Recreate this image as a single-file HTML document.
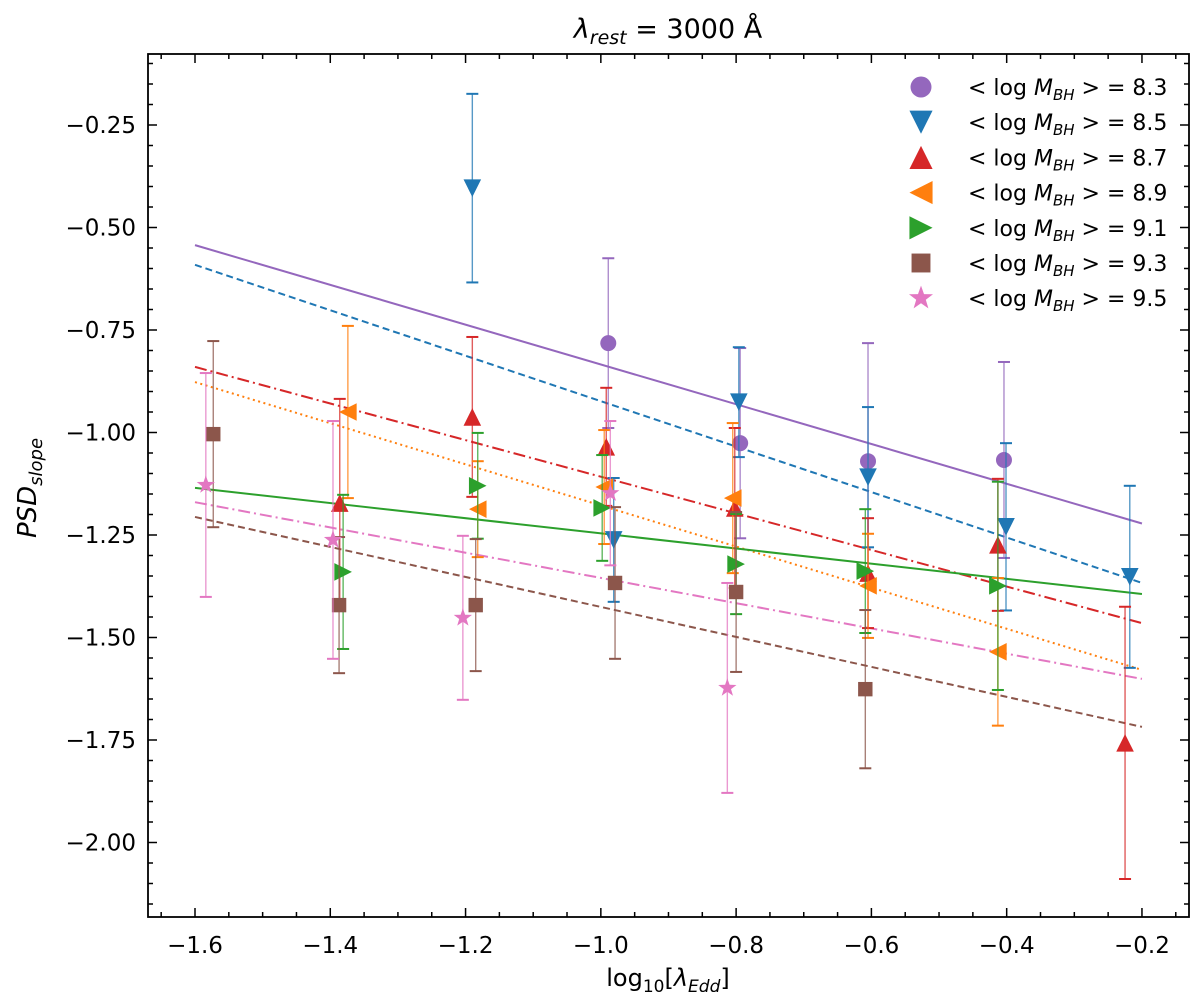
<!DOCTYPE html>
<html><head><meta charset="utf-8"><style>
body{margin:0;background:#fff;}
svg{display:block;font-family:"DejaVu Sans","Liberation Sans",sans-serif;}
</style></head><body>
<svg id="chart" width="1200" height="1000" viewBox="0 0 1200 1000" xmlns="http://www.w3.org/2000/svg">
<rect width="1200" height="1000" fill="#fff"/>
<g id="plot"></g>
<text x="668" y="38" text-anchor="middle" font-size="27"><tspan font-style="italic">λ</tspan><tspan font-style="italic" font-size="19" dy="6">rest</tspan><tspan dy="-6"> =  3000 Å</tspan></text>
<text x="668" y="986" text-anchor="middle" font-size="24">log<tspan font-size="17" dy="6">10</tspan><tspan dy="-6">[</tspan><tspan font-style="italic">λ</tspan><tspan font-style="italic" font-size="17" dy="6">Edd</tspan><tspan dy="-6">]</tspan></text>
<text transform="translate(36,488) rotate(-90)" text-anchor="middle" font-size="26" font-style="italic">PSD<tspan font-size="18" dy="6">slope</tspan></text>
</svg>
<script>
const seriesNames=["8.3","8.5","8.7","8.9","9.1","9.3","9.5"];
const seriesColors=["#9467bd","#1f77b4","#d62728","#ff7f0e","#2ca02c","#8c564b","#e377c2"];
const seriesMarkers=["circle","down","up","left","right","square","star"];
const xTicks=[-1.6,-1.4,-1.2,-1.0,-0.8,-0.6,-0.4,-0.2];
const yTicks=[-0.25,-0.5,-0.75,-1.0,-1.25,-1.5,-1.75,-2.0];
const xTickLabels=["−1.6","−1.4","−1.2","−1.0","−0.8","−0.6","−0.4","−0.2"];
const yTickLabels=["−0.25","−0.50","−0.75","−1.00","−1.25","−1.50","−1.75","−2.00"];
const xs83=[-0.989,-0.794,-0.605,-0.404];
const ys83=[-0.782,-1.026,-1.070,-1.067];
const es83=[0.207,0.232,0.288,0.239];
const xs85=[-1.190,-0.981,-0.796,-0.605,-0.401,-0.218];
const ys85=[-0.404,-1.262,-0.926,-1.109,-1.230,-1.352];
const es85=[0.23,0.151,0.134,0.171,0.204,0.222];
const xs87=[-1.386,-1.190,-0.992,-0.802,-0.605,-0.413,-0.225];
const ys87=[-1.172,-0.962,-1.035,-1.184,-1.343,-1.274,-1.757];
const es87=[0.254,0.195,0.144,0.195,0.134,0.161,0.332];
const xs89=[-1.374,-1.182,-0.995,-0.805,-0.605,-0.413];
const ys89=[-0.95,-1.187,-1.133,-1.16,-1.374,-1.535];
const es89=[0.21,0.117,0.139,0.183,0.127,0.18];
const xs91=[-1.381,-1.182,-0.998,-0.800,-0.609,-0.413];
const ys91=[-1.34,-1.13,-1.184,-1.321,-1.338,-1.374];
const es91=[0.188,0.129,0.129,0.122,0.151,0.254];
const xs93=[-1.573,-1.387,-1.185,-0.979,-0.800,-0.609];
const ys93=[-1.004,-1.421,-1.421,-1.367,-1.389,-1.626];
const es93=[0.227,0.166,0.161,0.185,0.195,0.193];
const xs95=[-1.584,-1.396,-1.204,-0.986,-0.813];
const ys95=[-1.128,-1.262,-1.452,-1.148,-1.623];
const es95=[0.273,0.29,0.2,0.176,0.256];
const fitX=[-1.6,-0.2];
const fitStart=[-0.543,-0.591,-0.84,-0.877,-1.135,-1.206,-1.17];
const fitEnd=[-1.222,-1.367,-1.465,-1.579,-1.394,-1.718,-1.601];
const fitDash=["","7,4","12,4,2,4","2,3.5","","7,4","12,4,2,4"];
const fitOrder=[0,1,2,3,4,5,6];
const fitColors=["#9467bd","#1f77b4","#d62728","#ff7f0e","#2ca02c","#8c564b","#e377c2"];

const L=148,R=1189,T=54,B=917;
function X(v){return 195+(v+1.6)*676.4;}
function Y(v){return 125+(-0.25-v)*410;}
const NS="http://www.w3.org/2000/svg";
const plot=document.getElementById('plot');
function mk(tag,attrs,parent){const e=document.createElementNS(NS,tag);for(const k in attrs)e.setAttribute(k,attrs[k]);(parent||plot).appendChild(e);return e;}

for(let v=-1.65;v<=-0.149;v+=0.05){const px=X(v);if(px<L||px>R)continue;const major=xTicks.some(t=>Math.abs(t-v)<1e-6);const len=major?9:5;
 const t1=mk('line',{x1:px,y1:B,x2:px,y2:B-len,stroke:'#000','stroke-width':1.5});
 
 
 mk('line',{x1:px,y1:T,x2:px,y2:T+len,stroke:'#000','stroke-width':1.5});}
for(let v=-0.1;v>=-2.2;v-=0.05){const py=Y(v);if(py<T||py>B)continue;const major=yTicks.some(t=>Math.abs(t-v)<1e-6);const len=major?9:5;
 const t1=mk('line',{x1:L,y1:py,x2:L+len,y2:py,stroke:'#000','stroke-width':1.5});
 
 
 mk('line',{x1:R,y1:py,x2:R-len,y2:py,stroke:'#000','stroke-width':1.5});}
xTicks.forEach((v,i)=>{const t=mk('text',{x:X(v),y:B+36,'text-anchor':'middle','font-size':23});t.textContent=xTickLabels[i];
 
 });
yTicks.forEach((v,i)=>{const t=mk('text',{x:L-12,y:Y(v)+8,'text-anchor':'end','font-size':23});t.textContent=yTickLabels[i];
 
 });

function marker(type,cx,cy,s,color,parent){let e;
 if(type==='circle')e=mk('circle',{cx:cx,cy:cy,r:s*0.5},parent);
 else if(type==='square')e=mk('rect',{x:cx-s*0.45,y:cy-s*0.45,width:s*0.9,height:s*0.9},parent);
 else if(type==='star'){let p=[];for(let k=0;k<10;k++){const r=k%2?s*0.24:s*0.6;const a=-Math.PI/2+k*Math.PI/5;p.push((cx+r*Math.cos(a)).toFixed(1)+','+(cy+r*Math.sin(a)).toFixed(1));}e=mk('polygon',{points:p.join(' ')},parent);}
 else{const h=s*0.55;let pts;
  if(type==='down')pts=[[cx-h,cy-h],[cx+h,cy-h],[cx,cy+h]];
  if(type==='up')pts=[[cx-h,cy+h],[cx+h,cy+h],[cx,cy-h]];
  if(type==='left')pts=[[cx+h,cy-h],[cx+h,cy+h],[cx-h,cy]];
  if(type==='right')pts=[[cx-h,cy-h],[cx-h,cy+h],[cx+h,cy]];
  e=mk('polygon',{points:pts.map(p=>p.join(',')).join(' ')},parent);}
 e.setAttribute('fill',color);return e;}

fitOrder.forEach(i=>{const l=mk('line',{x1:X(fitX[0]),y1:Y(fitStart[i]),x2:X(fitX[1]),y2:Y(fitEnd[i]),stroke:fitColors[i],'stroke-width':2,'stroke-dasharray':fitDash[i]});
 
 });

const allX=[xs83,xs85,xs87,xs89,xs91,xs93,xs95],allY=[ys83,ys85,ys87,ys89,ys91,ys93,ys95],allE=[es83,es85,es87,es89,es91,es93,es95];
allX.forEach((xs,i)=>{const g=mk('g',{});
 
 
 xs.forEach((x,j)=>{const cx=X(x),y=allY[i][j],e=allE[i][j];const c=seriesColors[i];
  mk('line',{x1:cx,y1:Y(y+e),x2:cx,y2:Y(y-e),stroke:c,'stroke-width':1.4,opacity:0.75},g);
  mk('line',{x1:cx-6,y1:Y(y+e),x2:cx+6,y2:Y(y+e),stroke:c,'stroke-width':2},g);
  mk('line',{x1:cx-6,y1:Y(y-e),x2:cx+6,y2:Y(y-e),stroke:c,'stroke-width':2},g);
  const m=marker(seriesMarkers[i],cx,Y(y),16,c,g);
  
  });});

mk('rect',{x:L,y:T,width:R-L,height:B-T,fill:'none',stroke:'#000','stroke-width':1.8});

const lg=mk('g',{});


seriesNames.forEach((n,i)=>{const y=87+i*35.2;
 const ge=mk('g',{},lg);
 
 
 marker(seriesMarkers[i],921,y,21,seriesColors[i],ge);
 const t=mk('text',{x:968,y:y+8,'font-size':22},ge);
 t.innerHTML='&lt; log <tspan font-style="italic">M</tspan><tspan font-style="italic" font-size="15" dy="5">BH</tspan><tspan dy="-5"> &gt; = '+n+'</tspan>';});
</script>
</body></html>
